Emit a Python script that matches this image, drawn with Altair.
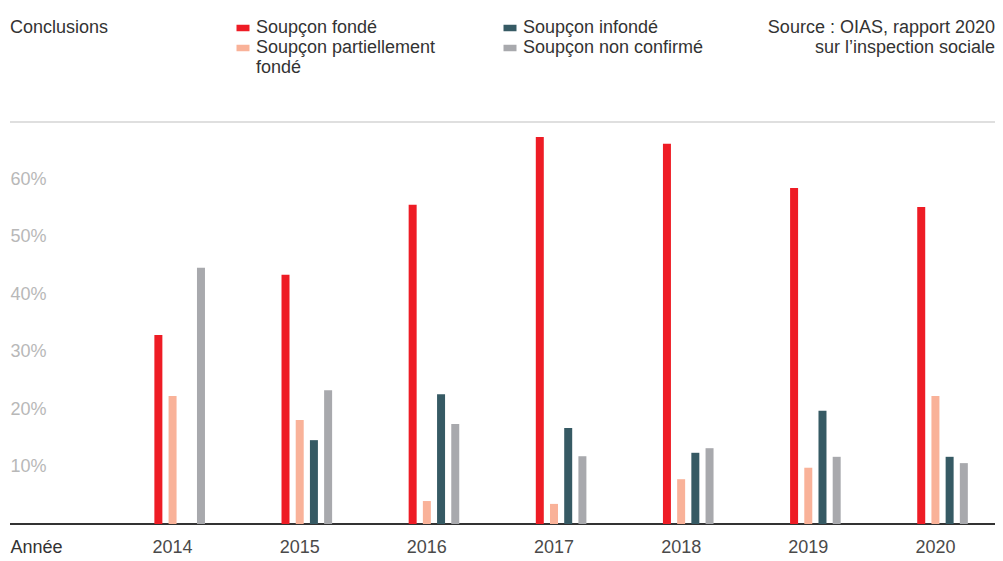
import altair as alt
import pandas as pd

# ---- data ----
years = ["2014", "2015", "2016", "2017", "2018", "2019", "2020"]
fonde = [32.9, 43.4, 55.6, 67.4, 66.2, 58.5, 55.2]
partiel = [22.3, 18.1, 4.0, 3.5, 7.8, 9.8, 22.3]
infonde = [None, 14.6, 22.6, 16.7, 12.4, 19.7, 11.7]
non_confirme = [44.6, 23.3, 17.4, 11.8, 13.2, 11.7, 10.6]

series = ["Soupçon fondé", "Soupçon partiellement fondé", "Soupçon infondé", "Soupçon non confirmé"]
series_colors = ["#ee1c25", "#f9b299", "#365a64", "#a8a9ad"]
y_ticks = [10, 20, 30, 40, 50, 60]
conclusions_label = "Conclusions"
source_label = "Source : OIAS, rapport 2020\nsur l’inspection sociale"
x_title = "Année"

rows = []
for i, y in enumerate(years):
    for name, vals in zip(series, [fonde, partiel, infonde, non_confirme]):
        if vals[i] is not None:
            rows.append({"annee": y, "serie": name, "valeur": vals[i]})
df = pd.DataFrame(rows)

offset_domain = ["_a", "_b", "_c"] + series + ["_d", "_e"]

FONT = "Liberation Sans"
FS = 18
W, H = 886, 402

bars = alt.Chart(df).mark_bar().encode(
    x=alt.X("annee:N", sort=years,
            scale=alt.Scale(paddingInner=0, paddingOuter=0, range=[0, 890]),
            axis=alt.Axis(title=x_title, domain=False, ticks=False, labelAngle=0,
                          labelFontSize=FS, labelColor="#4a4a4a", labelPadding=14,
                          labelBaseline="top",
                          titleX=-99, titleY=14, titleAlign="left", titleBaseline="top",
                          titleFontSize=FS, titleFontWeight="normal", titleColor="#333333")),
    xOffset=alt.XOffset("serie:N",
                        scale=alt.Scale(domain=offset_domain, paddingInner=0.437, paddingOuter=0.195)),
    y=alt.Y("valeur:Q",
            scale=alt.Scale(domain=[0, 70], nice=False, zero=True),
            axis=alt.Axis(title=None, values=y_ticks, domain=False, ticks=False,
                          labelExpr="datum.value + '%'", labelAlign="left", labelPadding=99,
                          labelFontSize=FS, labelColor="#b8b8b8",
                          gridColor="#dcdcdc", gridWidth=1.5)),
    color=alt.Color("serie:N",
                    scale=alt.Scale(domain=series, range=series_colors),
                    legend=alt.Legend(title=None, orient="none", legendX=125, legendY=-103,
                                      columns=2, columnPadding=65, rowPadding=2,
                                      symbolType="M-1,-0.5L1,-0.5L1,0.5L-1,0.5Z",
                                      symbolSize=169, symbolStrokeWidth=0, symbolOpacity=1,
                                      labelFontSize=FS, labelColor="#333333", labelOffset=4,
                                      labelLimit=400,
                                      labelExpr="datum.label == 'Soupçon partiellement fondé' ? ['Soupçon partiellement', 'fondé'] : datum.label")),
)

top_line = alt.Chart(pd.DataFrame({"v": [70]})).mark_rule(color="#d4d4d4", strokeWidth=1.5).encode(
    y=alt.datum(70), x=alt.value(-99), x2=alt.value(W))
base_line = alt.Chart(pd.DataFrame({"v": [0]})).mark_rule(color="#333333", strokeWidth=2).encode(
    y=alt.datum(0), x=alt.value(-99), x2=alt.value(W))

concl = alt.Chart(pd.DataFrame({"t": [conclusions_label]})).mark_text(
    align="left", baseline="middle", fontSize=FS, color="#333333", font=FONT).encode(
    x=alt.value(-99), y=alt.value(-94), text="t:N")
source = alt.Chart(pd.DataFrame({"t": [source_label]})).mark_text(
    align="right", baseline="middle", fontSize=FS, color="#333333", font=FONT,
    lineBreak="\n", lineHeight=20).encode(
    x=alt.value(W), y=alt.value(-94), text="t:N")

chart = alt.layer(base_line, bars, top_line, concl, source).properties(
    width=W, height=H,
    autosize=alt.AutoSizeParams(type="none"),
    padding={"left": 101, "top": 114, "right": 0, "bottom": 37},
).configure(font=FONT).configure_view(stroke=None)

chart.save("out.html", embed_options={"renderer": "svg", "actions": False})
